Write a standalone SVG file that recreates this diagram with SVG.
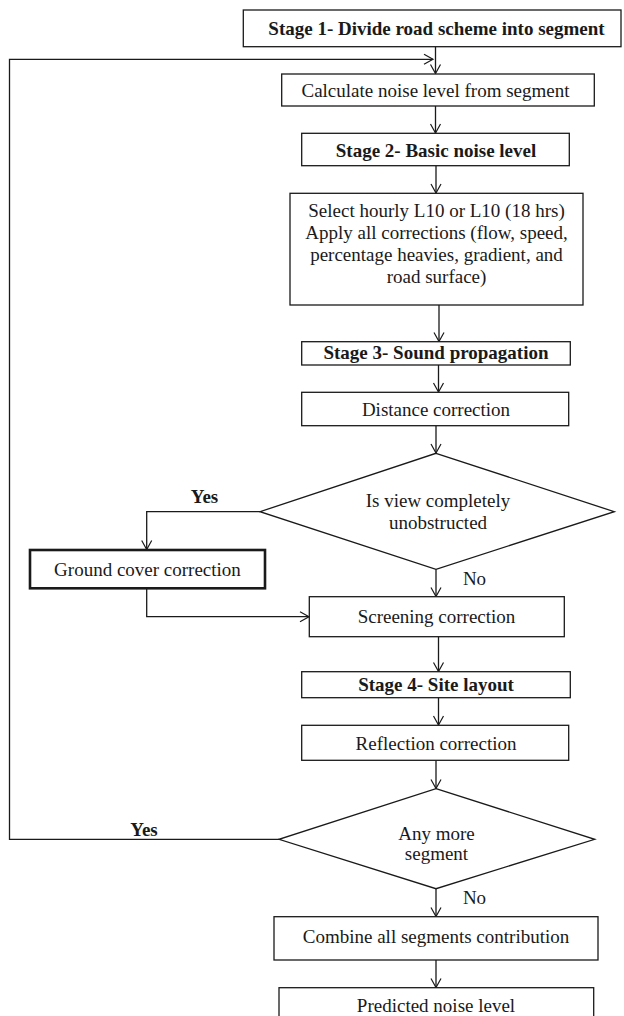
<svg xmlns="http://www.w3.org/2000/svg" width="624" height="1016" viewBox="0 0 624 1016">
  <style>
    .box { fill: #fff; stroke: #1a1a1a; stroke-width: 1.3; }
    .thick { stroke-width: 2.6; }
    .t { font-family: "Liberation Serif", "Times New Roman", serif; font-size: 19px; fill: #1a1a1a; text-anchor: middle; }
    .b { font-weight: bold; }
    .ln { fill: none; stroke: #1a1a1a; stroke-width: 1.3; }
  </style>
  <defs>
    <!-- open V arrowhead, tip at the end of the line -->
    <marker id="arr" viewBox="-11 -7 13 14" refX="0" refY="0" markerWidth="13" markerHeight="14" markerUnits="userSpaceOnUse" orient="auto" overflow="visible">
      <path d="M-9,-5 L0,0 L-9,5" fill="none" stroke="#1a1a1a" stroke-width="1.2"/>
    </marker>
  </defs>
  <rect width="624" height="1016" fill="#fff"/>

  <!-- connectors -->
  <g id="connectors">
    <line class="ln" x1="435.5" y1="46.7" x2="435.5" y2="73.5" marker-end="url(#arr)"/>
    <path class="ln" d="M279,839.3 H9.5 V59.3 H433" marker-end="url(#arr)"/>
    <line class="ln" x1="435.5" y1="106" x2="435.5" y2="133" marker-end="url(#arr)"/>
    <line class="ln" x1="436" y1="165.7" x2="436" y2="193" marker-end="url(#arr)"/>
    <line class="ln" x1="439" y1="305" x2="439" y2="341.5" marker-end="url(#arr)"/>
    <line class="ln" x1="438.5" y1="365" x2="438.5" y2="392" marker-end="url(#arr)"/>
    <line class="ln" x1="436" y1="425.7" x2="436" y2="453" marker-end="url(#arr)"/>
    <path class="ln" d="M260,511.7 H146.7 V549.5" marker-end="url(#arr)"/>
    <path class="ln" d="M146.7,588.3 V616.7 H309" marker-end="url(#arr)"/>
    <line class="ln" x1="436" y1="569.3" x2="436" y2="596.5" marker-end="url(#arr)"/>
    <line class="ln" x1="438.5" y1="636.7" x2="438.5" y2="671.5" marker-end="url(#arr)"/>
    <line class="ln" x1="438.5" y1="697.7" x2="438.5" y2="725" marker-end="url(#arr)"/>
    <line class="ln" x1="436" y1="760.3" x2="436" y2="788.5" marker-end="url(#arr)"/>
    <line class="ln" x1="436" y1="888.7" x2="436" y2="916.5" marker-end="url(#arr)"/>
    <line class="ln" x1="436" y1="960" x2="436" y2="987.5" marker-end="url(#arr)"/>
    <text class="t b" x="204.5" y="503">Yes</text>
    <text class="t" x="474.5" y="585">No</text>
    <text class="t b" x="144" y="836">Yes</text>
    <text class="t" x="474.5" y="904">No</text>
  </g>

  <g id="stage1">
    <rect class="box" x="243.3" y="10" width="377.7" height="36.7"/>
    <text class="t b" x="436.5" y="34.5">Stage 1- Divide road scheme into segment</text>
  </g>
  <g id="calc-segment">
    <rect class="box" x="281.7" y="74" width="312.6" height="32"/>
    <text class="t" x="435.5" y="97">Calculate noise level from segment</text>
  </g>
  <g id="stage2">
    <rect class="box" x="301.7" y="133.3" width="267.6" height="32.4"/>
    <text class="t b" x="436" y="156.5">Stage 2- Basic noise level</text>
  </g>
  <g id="corrections">
    <rect class="box" x="290" y="193.3" width="293" height="111.7"/>
    <text class="t" x="436.5" y="217">Select hourly L10 or L10 (18 hrs)</text>
    <text class="t" x="436.5" y="239">Apply all corrections (flow, speed,</text>
    <text class="t" x="436.5" y="261">percentage heavies, gradient, and</text>
    <text class="t" x="436.5" y="283">road surface)</text>
  </g>
  <g id="stage3">
    <rect class="box" x="301.7" y="341.7" width="268.6" height="23.3"/>
    <text class="t b" x="436" y="359">Stage 3- Sound propagation</text>
  </g>
  <g id="distance">
    <rect class="box" x="301.7" y="392.3" width="267" height="33.4"/>
    <text class="t" x="436" y="416">Distance correction</text>
  </g>
  <g id="view-decision">
    <polygon class="box" points="436,453.3 614.3,511.7 436,569.3 260,511.7"/>
    <text class="t" x="438" y="507">Is view completely</text>
    <text class="t" x="438" y="529">unobstructed</text>
  </g>
  <g id="ground-cover">
    <rect class="box thick" x="30" y="550" width="235" height="38.3"/>
    <text class="t" x="147.5" y="576">Ground cover correction</text>
  </g>
  <g id="screening">
    <rect class="box" x="309.3" y="596.7" width="255" height="40"/>
    <text class="t" x="436.5" y="622.5">Screening correction</text>
  </g>
  <g id="stage4">
    <rect class="box" x="301.7" y="671.7" width="268.6" height="26"/>
    <text class="t b" x="436" y="690.5">Stage 4- Site layout</text>
  </g>
  <g id="reflection">
    <rect class="box" x="301.7" y="725.3" width="267" height="35"/>
    <text class="t" x="436" y="749.5">Reflection correction</text>
  </g>
  <g id="segment-decision">
    <polygon class="box" points="436,788.7 594.7,839.3 436,888.7 279,839.3"/>
    <text class="t" x="436.5" y="840">Any more</text>
    <text class="t" x="436.5" y="860">segment</text>
  </g>
  <g id="combine">
    <rect class="box" x="274" y="916.7" width="324" height="43.3"/>
    <text class="t" x="436" y="943">Combine all segments contribution</text>
  </g>
  <g id="predicted">
    <rect class="box" x="279" y="987.7" width="314.7" height="36"/>
    <text class="t" x="436" y="1012">Predicted noise level</text>
  </g>
</svg>
